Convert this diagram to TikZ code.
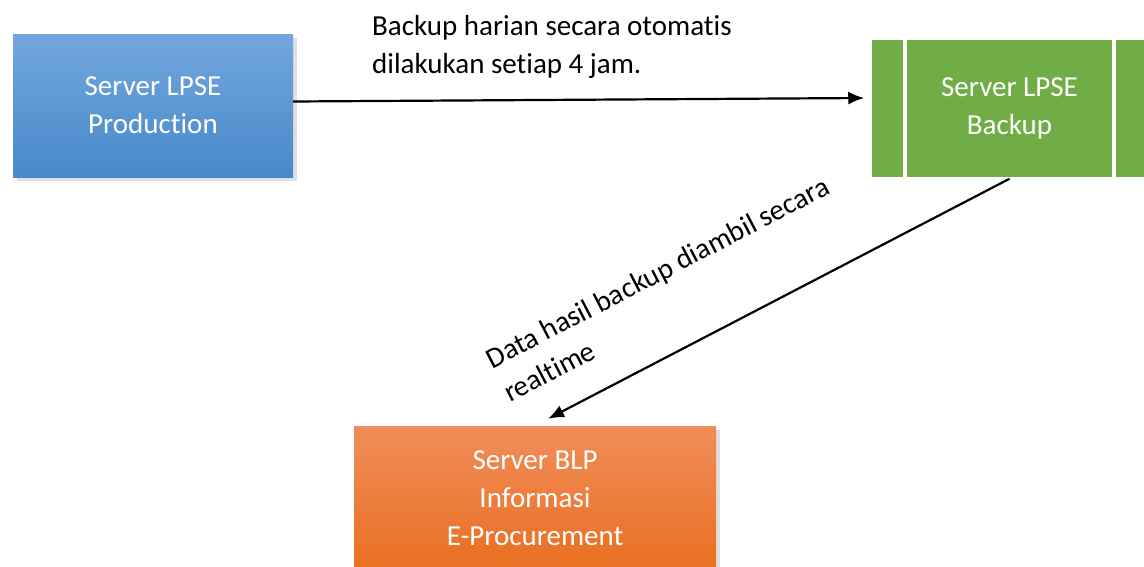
\documentclass[tikz,border=0pt]{standalone}
\usepackage{fontspec}
\setmainfont{Carlito}[RawFeature=-liga]
\usetikzlibrary{arrows.meta,shadows}
\definecolor{lpseblue}{HTML}{4A88CA}
\definecolor{lpseblueup}{HTML}{71A7DD}
\definecolor{bkgreen}{HTML}{70AD47}
\definecolor{blporange}{HTML}{E96F20}
\definecolor{blporangeup}{HTML}{F18D5A}

\begin{document}
\begin{tikzpicture}[x=1pt,y=-1pt,font=\fontsize{29}{38}\selectfont,
  server/.style={inner sep=0,align=center,text=white,drop shadow={shadow xshift=4pt,shadow yshift=-4pt,opacity=0.25}},
  flow/.style={line width=2.2pt,-{Latex[length=16pt,width=13pt]}},
  note/.style={inner sep=0,align=left,anchor=base west}]
\useasboundingbox (0,0) rectangle (1144,566);
\clip (0,0) rectangle (1144,566);
\node [server,top color=lpseblueup,bottom color=lpseblue,minimum width=280pt,minimum height=143pt] (prod) at (153,105.5) {Server LPSE\\Production};
\node [inner sep=0,align=center,text=white,fill=bkgreen,draw=white,line width=1.5pt,minimum width=277pt,minimum height=139pt,
  path picture={\foreach \s in {-1,1}
    \draw [white,line width=3.5pt] ([xshift=\s*104.5pt]path picture bounding box.north) -- ([xshift=\s*104.5pt]path picture bounding box.south);}] (backup) at (1009.5,108.5) {Server LPSE\\Backup};
\node [server,top color=blporangeup,bottom color=blporange,minimum width=362pt,minimum height=144pt] (blp) at (535,498) {Server BLP\\Informasi\\E-Procurement};
\draw [flow] ([yshift=4pt]prod.east) -- ([xshift=-6pt,yshift=10.5pt]backup.west);
\draw [flow] (backup.south) -- ([xshift=13pt,yshift=7pt]blp.north);
\node [note] (harian) at (372,73) {Backup harian secara otomatis\\dilakukan setiap 4 jam.};
\node [note,rotate=27.5] (realtime) at (510,403) {Data hasil backup diambil secara\\realtime};
\end{tikzpicture}
\end{document}
